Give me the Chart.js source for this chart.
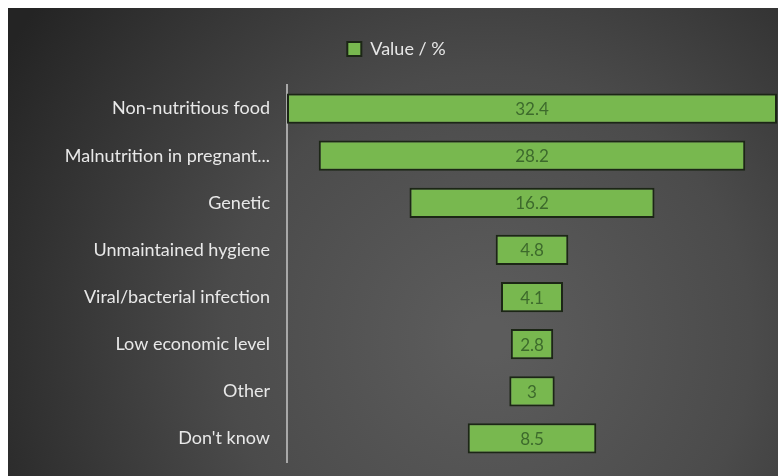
<!DOCTYPE html>
<html>
<head>
<meta charset="utf-8">
<script src="https://cdn.jsdelivr.net/npm/chart.js@4/dist/chart.umd.min.js"></script>
<style>
  html, body { margin: 0; padding: 0; background: #fff; overflow: hidden; }
  #chart { position: absolute; left: 8px; top: 8px; }
</style>
</head>
<body>
<canvas id="chart" width="770" height="468"></canvas>
<script>
const categories = ["Non-nutritious food", "Malnutrition in pregnant...", "Genetic", "Unmaintained hygiene",
    "Viral/bacterial infection", "Low economic level", "Other", "Don't know"];
const values = [32.4, 28.2, 16.2, 4.8, 4.1, 2.8, 3, 8.5];
const seriesName = "Value / %";

// funnel: every bar centred on half of the largest value
const centre = Math.max(...values) / 2;
const spans = values.map(v => [centre - v / 2, centre + v / 2]);

const bgPlugin = {
    id: "bg",
    beforeDraw(chart) {
        const ctx = chart.ctx;
        const w = chart.width, h = chart.height;
        ctx.save();
        const g = ctx.createRadialGradient(480, 330, 20, 480, 330, 560);
        g.addColorStop(0, "#5c5c5c");
        g.addColorStop(0.45, "#4b4b4b");
        g.addColorStop(1, "#242424");
        ctx.fillStyle = g;
        ctx.fillRect(0, 0, w, h);
        ctx.restore();
    }
};

// extra room under the legend
const legendGap = {
    id: "legendGap",
    beforeInit(chart) {
        const lg = chart.legend;
        if (!lg) return;
        const fit = lg.fit;
        lg.fit = function () {
            fit.call(this);
            this.height += 17;
        };
    }
};

const labelPlugin = {
    id: "vals",
    afterDatasetsDraw(chart) {
        const ctx = chart.ctx;
        const meta = chart.getDatasetMeta(0);
        ctx.save();
        ctx.font = "17px Lato";
        ctx.fillStyle = "#3d6a2c";
        ctx.textAlign = "center";
        ctx.textBaseline = "middle";
        meta.data.forEach((bar, i) => {
            const x = (bar.x + bar.base) / 2;
            ctx.fillText(String(values[i]), x, bar.y + 1);
        });
        ctx.restore();
    }
};

new Chart(document.getElementById("chart"), {
    type: "bar",
    data: {
        labels: categories,
        datasets: [{
            label: seriesName,
            data: spans,
            backgroundColor: "#78b84f",
            borderColor: "#1c2616",
            borderWidth: 2,
            borderSkipped: false,
            barPercentage: 0.64,
            categoryPercentage: 1,
        }],
    },
    options: {
        responsive: false,
        indexAxis: "y",
        animation: false,
        layout: { padding: { left: 8, right: 1, top: 20, bottom: 14 } },
        plugins: {
            legend: {
                labels: {
                    color: "#e6e6e6",
                    font: { family: "Lato", size: 18 },
                    boxWidth: 14,
                    boxHeight: 14,
                    padding: 12,
                },
            },
            tooltip: { enabled: false },
        },
        scales: {
            x: { display: false, min: 0, max: 32.4 },
            y: {
                grid: { display: false },
                border: { display: true, color: "#a8a8a8", width: 2 },
                ticks: { color: "#e8e8e8", font: { family: "Lato", size: 18 }, padding: 9 },
                afterFit(scale) {
                    scale.width = 271;
                    scale.paddingTop = 0;
                    scale.paddingBottom = 0;
                },
            },
        },
    },
    plugins: [bgPlugin, legendGap, labelPlugin],
});
</script>
</body>
</html>
